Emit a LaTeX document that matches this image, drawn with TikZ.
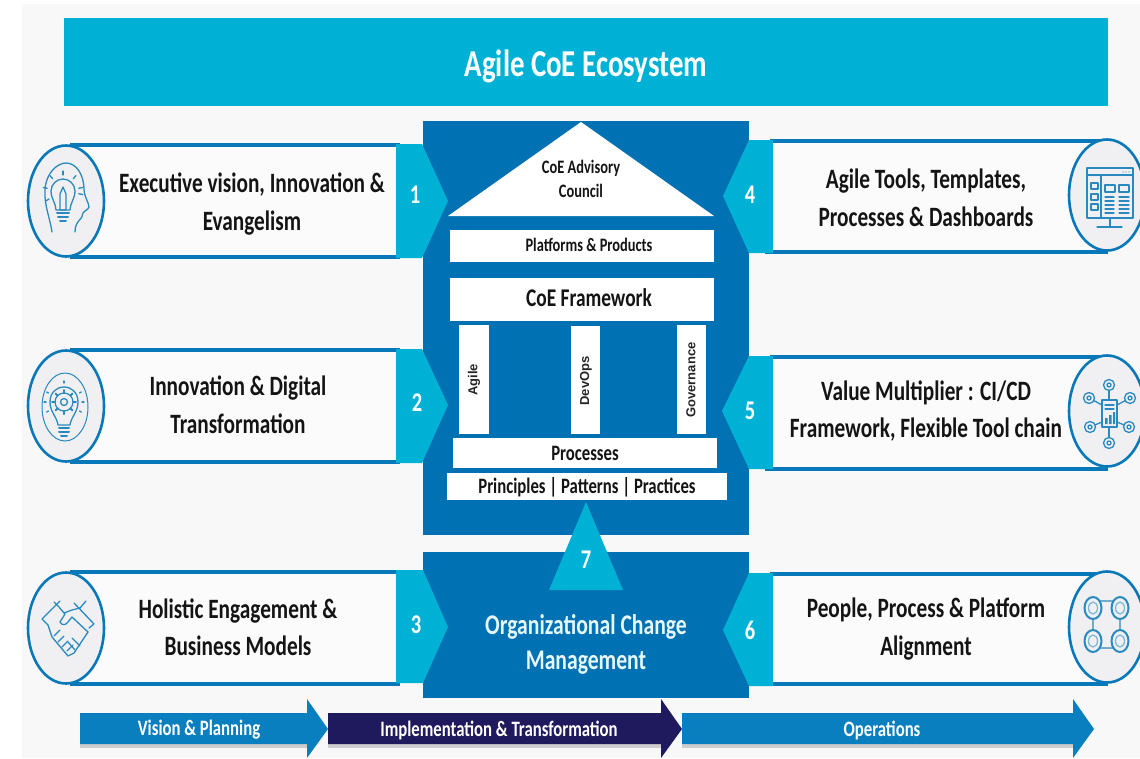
\documentclass[tikz,border=0pt]{standalone}
\usepackage{fontspec}
\setmainfont{Carlito}[FakeStretch=0.76]
\newfontfamily\vertfont{Liberation Sans}
\usetikzlibrary{shapes.geometric}
\definecolor{bgc}{HTML}{F8F8F8}
\definecolor{dblue}{HTML}{0071B3}
\definecolor{cyanb}{HTML}{00B1D6}
\definecolor{lineb}{HTML}{0878B8}
\definecolor{iconb}{HTML}{2A8ABF}
\definecolor{navy}{HTML}{1F1A5E}
\definecolor{arrb}{HTML}{0A7FC0}
\definecolor{discg}{HTML}{F0F0F2}
\tikzset{
 x=1pt,y=-1pt,
 whitebox/.style={draw=none,fill=white,inner sep=0,anchor=north west},
 bandtxt/.style={font=\bfseries\fontsize{28}{37.5}\selectfont,text=black!92,align=center,inner sep=0},
 numtxt/.style={font=\bfseries\fontsize{27}{30}\selectfont,text=white,inner sep=0},
 boxtxt/.style={font=\bfseries\fontsize{22}{24}\selectfont,text=black!92,inner sep=0},
 arrtxt/.style={font=\bfseries\fontsize{22}{24}\selectfont,text=white,inner sep=0},
 vtxt/.style={font=\vertfont\bfseries\fontsize{13}{15}\selectfont,text=black!85,rotate=90,inner sep=0},
 disc/.style={ellipse,draw=lineb,line width=2.6pt,fill=discg,minimum width=76pt,minimum height=111pt,inner sep=0},
 bandline/.style={draw=lineb,line width=3.2pt},
 icon/.style={draw=iconb,line width=1.3pt,line cap=round,line join=round},
 icont/.style={icon,line width=2pt},
}
\begin{document}
\begin{tikzpicture}
\useasboundingbox (0,0) rectangle (1140,758);
\fill[white] (0,0) rectangle (1140,758);
\fill[bgc] (22,4) rectangle (1140,758);
% title
\node[fill=cyanb,minimum width=1044pt,minimum height=88pt,inner sep=0,anchor=north west] (title) at (64,18) {};
\node[font=\bfseries\fontsize{38}{40}\selectfont,text=white,inner sep=0] (titletxt) at (586,66) {Agile CoE Ecosystem};
% main blocks
\fill[dblue] (423,121) rectangle (749,535);
\fill[dblue] (423,552) rectangle (749,698);
% bands left
\foreach \t/\b in {145/257,350/462,572/684}{
  \fill[white!50!bgc] (80,\t) rectangle (400,\b);
  \draw[bandline] (70,\t) -- (400,\t);
  \draw[bandline] (70,\b) -- (400,\b);
}
% bands right
\foreach \t/\b in {141/252,357/469,574/684}{
  \fill[white!50!bgc] (770,\t) rectangle (1100,\b);
  \draw[bandline] (770,\t) -- (1108,\t);
  \draw[bandline] (765,\b) -- (1108,\b);
}
% tabs
\fill[cyanb] (396,144) -- (422,144) -- (448,201) -- (422,258) -- (396,258) -- cycle;
\fill[cyanb] (396,349) -- (422,349) -- (448,405) -- (422,463) -- (396,463) -- cycle;
\fill[cyanb] (396,570) -- (423,570) -- (448,627) -- (423,683) -- (396,683) -- cycle;
\fill[cyanb] (773,140) -- (749,140) -- (723,196) -- (749,253) -- (773,253) -- cycle;
\fill[cyanb] (773,356) -- (749,356) -- (722,411) -- (749,469) -- (773,469) -- cycle;
\fill[cyanb] (773,573) -- (749,573) -- (723,630) -- (749,686) -- (773,686) -- cycle;
% temple
\fill[white] (448,216) -- (581,122) -- (714,216) -- cycle;
\node[whitebox,minimum width=264pt,minimum height=32pt] (platforms) at (450,230) {};
\node[whitebox,minimum width=264pt,minimum height=43pt] (framework) at (450,278) {};
\node[whitebox,minimum width=30pt,minimum height=109pt] (pagile) at (459,325) {};
\node[whitebox,minimum width=29pt,minimum height=108pt] (pdevops) at (571,326) {};
\node[whitebox,minimum width=29pt,minimum height=109pt] (pgov) at (677,325) {};
\node[whitebox,minimum width=264pt,minimum height=30pt] (processes) at (453,438) {};
\node[whitebox,minimum width=280pt,minimum height=27pt] (principles) at (447,473) {};
\fill[cyanb] (586,502) -- (623,590) -- (549,590) -- cycle;
% temple text
\node[font=\bfseries\fontsize{19}{24}\selectfont,text=black!92,align=center,inner sep=0] (advisory) at (581,179) {CoE Advisory\\Council};
\node[boxtxt,font=\bfseries\fontsize{19}{22}\selectfont] at (589,245) {Platforms \& Products};
\node[boxtxt,font=\bfseries\fontsize{25.5}{28}\selectfont] at (589,298) {CoE Framework};
\node[vtxt] at (474,380) {Agile};
\node[vtxt] at (586,381) {DevOps};
\node[vtxt] at (691,380) {Governance};
\node[boxtxt] at (585,453) {Processes};
\node[boxtxt] at (587,487) {Principles | Patterns | Practices};
\node[font=\bfseries\fontsize{28.5}{35}\selectfont,text=white!90!cyanb,align=center,inner sep=0] (ocm) at (586,644) {Organizational Change\\Management};
% numbers
\node[numtxt] at (415,195) {1};
\node[numtxt] at (417,403) {2};
\node[numtxt] at (416,625) {3};
\node[numtxt] at (750,195) {4};
\node[numtxt] at (750,411) {5};
\node[numtxt] at (750,630) {6};
\node[numtxt] at (586,560) {7};
% band text
\node[bandtxt] (t1) at (252,204) {Executive vision, Innovation \&\\Evangelism};
\node[bandtxt] (t2) at (238,405) {Innovation \& Digital\\Transformation};
\node[bandtxt] (t3) at (238,627) {Holistic Engagement \&\\Business Models};
\node[bandtxt] (t4) at (926,198) {Agile Tools, Templates,\\Processes \& Dashboards};
\node[bandtxt] (t5) at (926,411) {Value Multiplier : CI/CD\\Framework, Flexible Tool chain};
\node[bandtxt] (t6) at (926,629) {People, Process \& Platform\\Alignment};
% discs
\node[disc] (d1) at (66,201) {};
\node[disc] (d2) at (66,406) {};
\node[disc] (d3) at (66,628) {};
\node[disc] (d4) at (1107,195) {};
\node[disc] (d5) at (1107,411) {};
\node[disc] (d6) at (1107,627) {};
% icon 1: head and bulb
\draw[icon] (52,232) .. controls (50,218) and (44,205) .. (45,190) .. controls (46,172) and (58,163) .. (66,163) .. controls (76,163) and (84,174) .. (84,190) .. controls (84,196) and (89,203) .. (89,207) .. controls (88,210) and (84,211) .. (83,213) .. controls (83,220) and (75,220) .. (75,232);
\draw[icon] (56,210) .. controls (56,203) and (51,199) .. (51,191) .. controls (51,184) and (57,179) .. (63,179) .. controls (69,179) and (75,184) .. (75,191) .. controls (75,199) and (70,203) .. (70,210) -- cycle;
\draw[icon] (60,194) -- (63,187) -- (66,194) -- (66,210) -- (60,210) -- cycle;
\draw[icont] (57,213) -- (69,213) (58,217) -- (68,217) (60,221) -- (66,221);
\foreach \a in {0,40,80,120,160,200,340}{\draw[icon] ({63+16*cos(\a+10)},{191-16*sin(\a+10)}) -- ({63+20*cos(\a+10)},{191-20*sin(\a+10)});}
% icon 2: bulb with gear
\draw[icon,line width=1pt] (65,407) ellipse [x radius=23,y radius=34];
\draw[icon] (58,425) .. controls (57,417) and (50,412) .. (50,402) .. controls (50,393) and (56,387) .. (64,387) .. controls (72,387) and (78,393) .. (78,402) .. controls (78,412) and (71,417) .. (70,425) -- cycle;
\draw[icon,line width=1.2pt,fill=discg] (64,402) circle (9);
\foreach \a in {0,45,...,315}{\draw[icont] ({64+9*cos(\a)},{402+9*sin(\a)}) -- ({64+12*cos(\a)},{402+12*sin(\a)});}
\draw[icon] (64,402) circle (3.5);
\draw[icont] (59,428) -- (69,428) (59,432) -- (69,432) (61,436) -- (67,436);
\foreach \a in {30,150,180,0,210,330}{\draw[icon] ({64+18*cos(\a)},{402+18*sin(\a)}) -- ({64+20*cos(\a)},{402+20*sin(\a)});}
\draw[icon] (64,381) -- (64,383);
% icon 3: handshake
\draw[icon] (42,619) -- (60,601) (54,602) -- (59,607) (42,619) -- (48,625);
\draw[icon] (94,624) -- (74,603) (86,601) -- (80,608) (94,624) -- (89,628);
\draw[icon] (59,607) -- (65,614) -- (60,622) .. controls (62,626) and (66,625) .. (68,622) -- (72,617) -- (88,632);
\draw[icon] (80,608) -- (72,610) -- (64,613);
\draw[icon] (48,625) -- (52,637) -- (68,656) -- (74,653) -- (88,632);
\foreach \p/\q in {54/636,58/642,62/647,67/651}{\draw[icon] (\p,\q) -- (\p+6,\q-6);}
\draw[icon] (72,638) -- (80,646) (68,642) -- (75,650);
% icon 4: dashboard
\draw[icon] (1087,168) rectangle (1133,218);
\draw[icon] (1087,175) -- (1133,175) (1101,175) -- (1101,218);
\foreach \y in {186,197,207}{\draw[icon] (1091,\y-3) rectangle (1098,\y+3);}
\draw[icon] (1105,185) rectangle (1115,192);
\draw[icon] (1119,185) rectangle (1129,192);
\foreach \y in {197,201,205,209,213}{\draw[icon] (1105,\y) -- (1114,\y) (1119,\y) -- (1129,\y);}
\draw[icon] (1110,218) -- (1110,226) (1097,227) -- (1122,227);
\foreach \x in {1123,1126,1129}{\fill[iconb] (\x,172) circle (.7);}
% icon 5: network
\draw[icon] (1102,400) rectangle (1117,427);
\draw[icon] (1105,405) -- (1114,405) (1105,409) -- (1114,409);
\fill[iconb] (1105,424) rectangle (1107.5,418) (1109,424) rectangle (1111.5,415) (1113,424) rectangle (1115,412);
\foreach \cx/\cy/\sx/\sy in {1109/385/1109/400,1089/398/1102/405,1130/398/1117/405,1090/427/1102/422,1129/427/1117/422,1109/443/1109/427}{
 \draw[icon] (\sx,\sy) -- (\cx,\cy);
 \draw[icon,fill=discg] (\cx,\cy) circle (5.5);
 \draw[icon] (\cx,\cy) circle (2);
}
% icon 6: four gears
\draw[icon,rounded corners=6pt] (1093,601) rectangle (1120,648);
\foreach \cx/\cy in {1093/608,1120/608,1093/641,1120/641}{
 \draw[icont,fill=discg] (\cx,\cy) ellipse [x radius=8.5,y radius=11];
 \draw[icon,draw=iconb!60] (\cx,\cy) ellipse [x radius=4.5,y radius=6];
}
% bottom arrows
\fill[black!35,opacity=.5] (80,744) rectangle (307,748);
\fill[black!35,opacity=.5] (328,744) rectangle (661,748);
\fill[black!35,opacity=.5] (682,744) rectangle (1073,748);
\fill[arrb] (80,713) -- (307,713) -- (307,699) -- (328,729) -- (307,758) -- (307,744) -- (80,744) -- cycle;
\fill[navy] (328,713) -- (661,713) -- (661,699) -- (682,729) -- (661,758) -- (661,744) -- (328,744) -- cycle;
\fill[arrb] (682,713) -- (1073,713) -- (1073,699) -- (1094,729) -- (1073,758) -- (1073,744) -- (682,744) -- cycle;
\node[arrtxt] (a1) at (199,730) {Vision \& Planning};
\node[arrtxt] (a2) at (499,730) {Implementation \& Transformation};
\node[arrtxt] (a3) at (882,730) {Operations};
\end{tikzpicture}
\end{document}
